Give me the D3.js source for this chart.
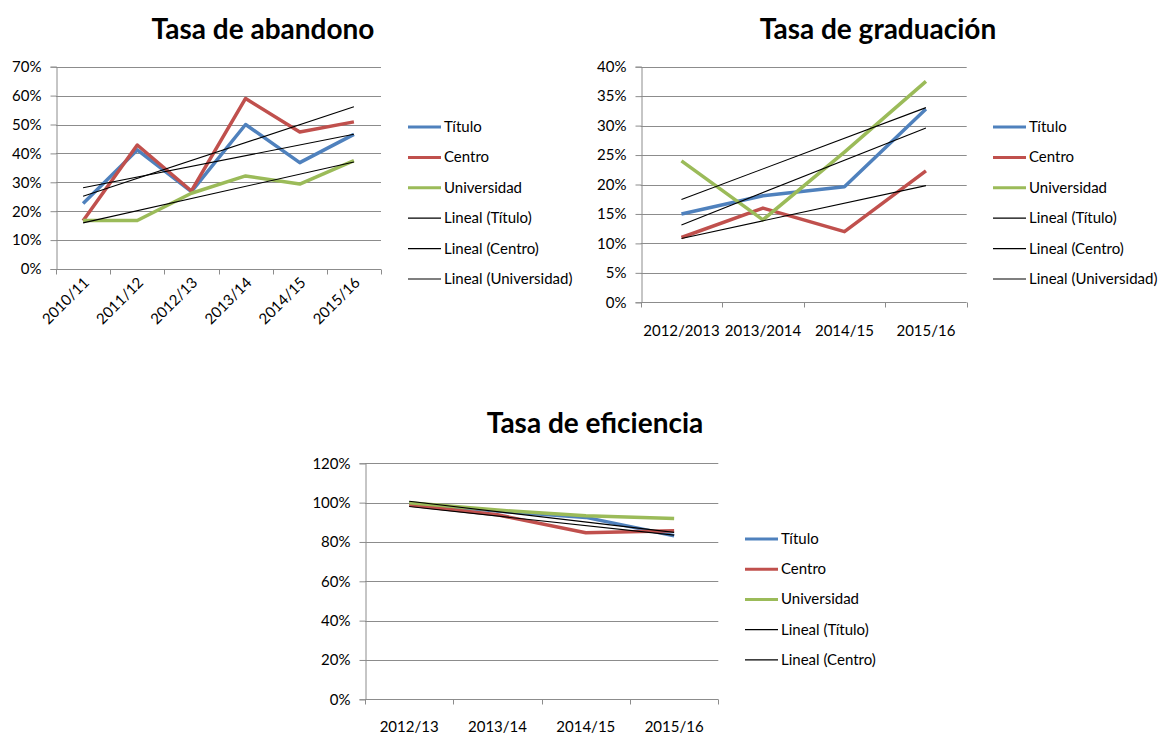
<!DOCTYPE html>
<html lang="es">
<head>
    <meta charset="UTF-8">
    <title>Tasas</title>
    <script src="https://cdn.jsdelivr.net/npm/d3@7"></script>
    <style>
        body { margin: 0; background: #fff; }
        text { font-family: Lato, "Open Sans", sans-serif; }
    </style>
</head>
<body>
<script>
    // series names and colours
    var seriesNames = ["Título", "Centro", "Universidad"];
    var seriesColors = ["#4F81BD", "#C0504D", "#9BBB59"];

    // Tasa de abandono
    var abandonoCats = ["2010/11", "2011/12", "2012/13", "2013/14", "2014/15", "2015/16"];
    var abandonoTitulo = [0.227, 0.412, 0.268, 0.500, 0.368, 0.466];
    var abandonoCentro = [0.167, 0.429, 0.270, 0.590, 0.474, 0.509];
    var abandonoUniv = [0.168, 0.168, 0.262, 0.322, 0.294, 0.375];
    var abandonoTicks = [0, 0.1, 0.2, 0.3, 0.4, 0.5, 0.6, 0.7];

    // Tasa de graduación
    var gradCats = ["2012/2013", "2013/2014", "2014/15", "2015/16"];
    var gradTitulo = [0.150, 0.181, 0.196, 0.328];
    var gradCentro = [0.110, 0.160, 0.120, 0.223];
    var gradUniv = [0.240, 0.140, 0.255, 0.375];
    var gradTicks = [0, 0.05, 0.1, 0.15, 0.2, 0.25, 0.3, 0.35, 0.4];

    // Tasa de eficiencia
    var eficCats = ["2012/13", "2013/14", "2014/15", "2015/16"];
    var eficTitulo = [0.997, 0.957, 0.925, 0.832];
    var eficCentro = [0.988, 0.938, 0.847, 0.857];
    var eficUniv = [1.000, 0.962, 0.933, 0.919];
    var eficTicks = [0, 0.2, 0.4, 0.6, 0.8, 1.0, 1.2];

    var svg = d3.select("body").append("svg")
        .attr("width", 1163)
        .attr("height", 733);

    var pct = d3.format(".0%");

    // least squares fit, values of the fitted line at each category
    function trend(vals) {
        var n = vals.length;
        var mx = (n - 1) / 2;
        var my = d3.mean(vals);
        var num = 0, den = 0;
        vals.forEach(function (v, i) {
            num += (i - mx) * (v - my);
            den += (i - mx) * (i - mx);
        });
        var b = num / den;
        return vals.map(function (v, i) { return my + b * (i - mx); });
    }

    function drawChart(opt) {
        var g = svg.append("g");
        var x = d3.scaleBand().domain(opt.cats).range([opt.left, opt.right]);
        var y = d3.scaleLinear().domain([0, d3.max(opt.ticks)]).range([opt.bottom, opt.top]);

        // title
        g.append("text")
            .attr("x", opt.titleX)
            .attr("y", opt.titleY)
            .attr("text-anchor", "middle")
            .attr("font-size", 28)
            .attr("font-weight", "bold")
            .text(opt.title);

        // gridlines
        g.selectAll(".grid")
            .data(opt.ticks.slice(1))
            .enter().append("line")
            .attr("x1", opt.left)
            .attr("x2", opt.right)
            .attr("y1", function (d) { return Math.round(y(d)) + 0.5; })
            .attr("y2", function (d) { return Math.round(y(d)) + 0.5; })
            .attr("stroke", "#8c8c8c")
            .attr("stroke-width", 1);

        // y axis
        var yAxis = d3.axisLeft(y).tickValues(opt.ticks).tickFormat(pct).tickSize(6).tickPadding(9);
        var ya = g.append("g")
            .attr("transform", "translate(" + (Math.round(opt.left) + 0.5) + ",0)")
            .call(yAxis);
        ya.select(".domain").attr("stroke", "#8c8c8c");
        ya.selectAll(".tick line").attr("stroke", "#8c8c8c");
        ya.selectAll(".tick text").attr("font-size", 15).attr("fill", "#000")
            .attr("font-family", "Lato, sans-serif");

        // x axis, ticks at band boundaries
        var xa = g.append("g")
            .attr("transform", "translate(0," + (Math.round(opt.bottom) + 0.5) + ")");
        xa.append("line")
            .attr("x1", opt.left).attr("x2", opt.right)
            .attr("stroke", "#8c8c8c");
        var bounds = opt.cats.map(function (c) { return x(c); }).concat([opt.right]);
        xa.selectAll(".xt")
            .data(bounds)
            .enter().append("line")
            .attr("x1", function (d) { return Math.round(d) + 0.5; })
            .attr("x2", function (d) { return Math.round(d) + 0.5; })
            .attr("y1", 0).attr("y2", 5)
            .attr("stroke", "#8c8c8c");
        var labels = xa.selectAll(".xl")
            .data(opt.cats)
            .enter().append("text")
            .attr("font-size", 15)
            .attr("fill", "#000")
            .text(function (d) { return d; });
        if (opt.rotate) {
            labels.attr("text-anchor", "end")
                .attr("transform", function (d) {
                    return "translate(" + (x(d) + x.bandwidth() / 2 + 7) + ",14) rotate(-45)";
                });
        } else {
            labels.attr("text-anchor", "middle")
                .attr("x", function (d) { return x(d) + x.bandwidth() / 2; })
                .attr("y", opt.labelDy);
        }

        var line = d3.line()
            .x(function (d, i) { return x(opt.cats[i]) + x.bandwidth() / 2; })
            .y(function (d) { return y(d); });

        // series lines
        opt.series.forEach(function (s, i) {
            g.append("path")
                .datum(s)
                .attr("d", line)
                .attr("fill", "none")
                .attr("stroke", seriesColors[i])
                .attr("stroke-width", 3.5)
                .attr("stroke-linejoin", "round");
        });

        // trend lines
        opt.series.slice(0, opt.nTrend).forEach(function (s) {
            var t = trend(s);
            g.append("path")
                .datum([t[0], t[t.length - 1]])
                .attr("d", d3.line()
                    .x(function (d, i) {
                        var c = i === 0 ? opt.cats[0] : opt.cats[opt.cats.length - 1];
                        return x(c) + x.bandwidth() / 2;
                    })
                    .y(function (d) { return y(d); }))
                .attr("fill", "none")
                .attr("stroke", "#000")
                .attr("stroke-width", 1.1);
        });

        // legend
        var items = seriesNames.map(function (n, i) { return { name: n, color: seriesColors[i], w: 3 }; });
        seriesNames.slice(0, opt.nTrend).forEach(function (n) {
            items.push({ name: "Lineal (" + n + ")", color: "#000", w: 1.2 });
        });
        var rows = g.append("g").selectAll("g")
            .data(items)
            .enter().append("g")
            .attr("transform", function (d, i) {
                return "translate(" + opt.legendX + "," + (opt.legendY + i * opt.legendStep) + ")";
            });
        rows.append("line")
            .attr("x1", 0).attr("x2", 33)
            .attr("stroke", function (d) { return d.color; })
            .attr("stroke-width", function (d) { return d.w; });
        rows.append("text")
            .attr("x", 36)
            .attr("y", 5)
            .attr("font-size", 15)
            .text(function (d) { return d.name; });
    }

    drawChart({
        title: "Tasa de abandono", titleX: 263, titleY: 39,
        cats: abandonoCats, ticks: abandonoTicks,
        series: [abandonoTitulo, abandonoCentro, abandonoUniv], nTrend: 3,
        left: 56, right: 381, top: 66.7, bottom: 269,
        rotate: true,
        legendX: 408, legendY: 127, legendStep: 30.4
    });

    drawChart({
        title: "Tasa de graduación", titleX: 878, titleY: 39,
        cats: gradCats, ticks: gradTicks,
        series: [gradTitulo, gradCentro, gradUniv], nTrend: 3,
        left: 640.7, right: 966.7, top: 66.7, bottom: 302.3,
        rotate: false, labelDy: 33,
        legendX: 993, legendY: 127, legendStep: 30.4
    });

    drawChart({
        title: "Tasa de eficiencia", titleX: 595, titleY: 433,
        cats: eficCats, ticks: eficTicks,
        series: [eficTitulo, eficCentro, eficUniv], nTrend: 2,
        left: 365, right: 718.3, top: 463.3, bottom: 699.3,
        rotate: false, labelDy: 32,
        legendX: 745, legendY: 539, legendStep: 30.2
    });
</script>
</body>
</html>
